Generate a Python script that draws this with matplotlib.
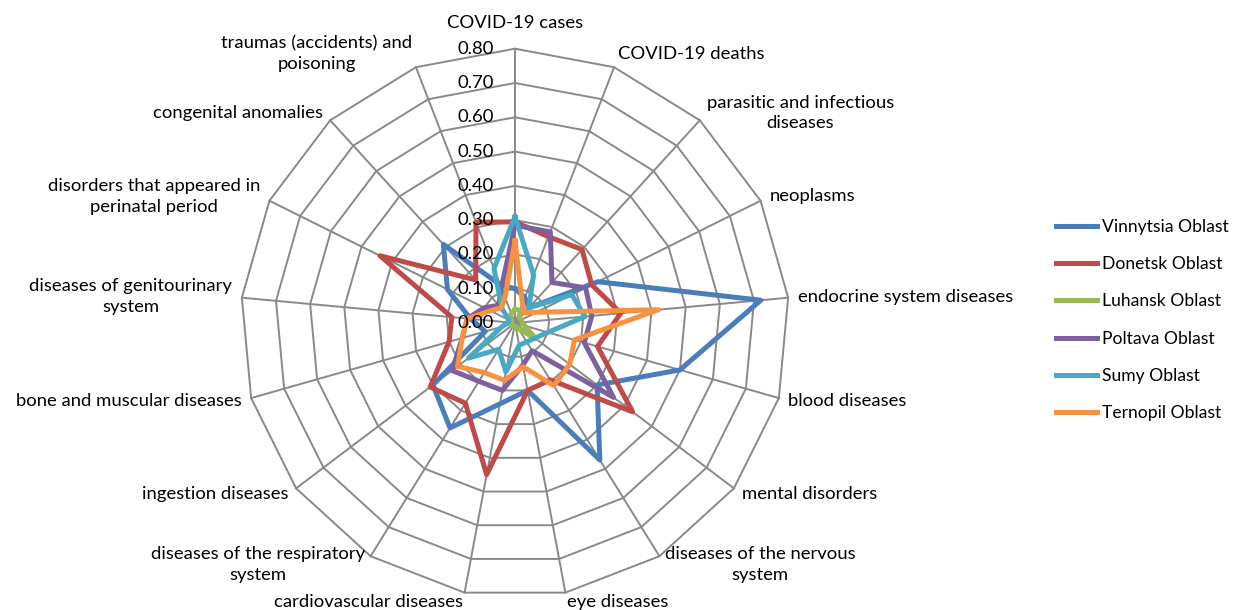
import numpy as np
import matplotlib
matplotlib.use("Agg")
import matplotlib.pyplot as plt

# categories clockwise from the top
categories = [
    "COVID-19 cases",
    "COVID-19 deaths",
    "parasitic and infectious\ndiseases",
    "neoplasms",
    "endocrine system diseases",
    "blood diseases",
    "mental disorders",
    "diseases of the nervous\nsystem",
    "eye diseases",
    "cardiovascular diseases",
    "diseases of the respiratory\nsystem",
    "ingestion diseases",
    "bone and muscular diseases",
    "diseases of genitourinary\nsystem",
    "disorders that appeared in\nperinatal period",
    "congenital anomalies",
    "traumas (accidents) and\npoisoning",
]

vinnytsia = [0.10, 0.08, 0.06, 0.27, 0.72, 0.50, 0.30, 0.47, 0.20, 0.24, 0.36, 0.30, 0.09, 0.13, 0.22, 0.31, 0.12]
donetsk = [0.295, 0.27, 0.29, 0.25, 0.31, 0.25, 0.43, 0.195, 0.20, 0.45, 0.275, 0.31, 0.20, 0.185, 0.44, 0.17, 0.315]
luhansk = [0.04, 0.04, 0.02, 0.02, 0.02, 0.03, 0.075, 0.02, 0.01, 0.01, 0.01, 0.01, 0.01, 0.01, 0.01, 0.02, 0.03]
poltava = [0.285, 0.285, 0.16, 0.23, 0.225, 0.21, 0.36, 0.095, 0.125, 0.20, 0.20, 0.23, 0.16, 0.14, 0.10, 0.07, 0.11]
sumy = [0.31, 0.15, 0.06, 0.185, 0.205, 0.10, 0.073, 0.065, 0.066, 0.145, 0.09, 0.17, 0.04, 0.02, 0.02, 0.055, 0.17]
ternopil = [0.24, 0.06, 0.04, 0.07, 0.42, 0.18, 0.20, 0.215, 0.13, 0.17, 0.17, 0.21, 0.16, 0.14, 0.08, 0.06, 0.08]

series_names = ["Vinnytsia Oblast", "Donetsk Oblast", "Luhansk Oblast",
                "Poltava Oblast", "Sumy Oblast", "Ternopil Oblast"]
series_values = [vinnytsia, donetsk, luhansk, poltava, sumy, ternopil]
series_colors = ["#4A7EBB", "#BE4B48", "#98B954", "#7D60A0", "#46AAC5", "#F69240"]

ticks = [0.0, 0.1, 0.2, 0.3, 0.4, 0.5, 0.6, 0.7, 0.8]
rmax = 0.8

plt.rcParams['font.family'] = ['Lato', 'DejaVu Sans']
fs = 13.3

W, H = 1234, 610
fig = plt.figure(figsize=(W / 100, H / 100), dpi=100)

# axes square in pixels, centred on the radar centre
cx, cy, R, half = 515, 287, 274.3, 285
ax = fig.add_axes([(cx - half) / W, (cy - half) / H, 2 * half / W, 2 * half / H])
lim = rmax * half / R
ax.set_xlim(-lim, lim)
ax.set_ylim(-lim, lim)
ax.axis('off')

n = len(categories)
ang = np.arange(n) * 2 * np.pi / n
s, c = np.sin(ang), np.cos(ang)

grid_col = '#898989'
for t in ticks[1:]:
    ax.plot(np.append(t * s, t * s[0]), np.append(t * c, t * c[0]),
            color=grid_col, lw=1.4, zorder=1)
for i in range(n):
    ax.plot([0, rmax * s[i]], [0, rmax * c[i]], color=grid_col, lw=1.4, zorder=1)

for vals, name, col in zip(series_values, series_names, series_colors):
    v = np.array(vals)
    ax.plot(np.append(v * s, v[0] * s[0]), np.append(v * c, v[0] * c[0]),
            color=col, lw=3.6, label=name, solid_joinstyle='round', zorder=3)

for t in ticks:
    ax.annotate(f"{t:.2f}", xy=(0, t), xytext=(-21, 0), textcoords='offset pixels',
                ha='right', va='center', fontsize=fs, color='black', zorder=5)

for i, lab in enumerate(categories):
    if s[i] > 0.1:
        ha = 'left'
    elif s[i] < -0.1:
        ha = 'right'
    else:
        ha = 'center'
    dy = 10 * c[i] + (16 * c[i] ** 20 if c[i] > 0 else 0)
    ax.annotate(lab, xy=(rmax * s[i], rmax * c[i]), xytext=(10 * s[i], dy),
                textcoords='offset pixels', ha=ha, va='center',
                multialignment='center', linespacing=1.35, fontsize=fs,
                color='black', annotation_clip=False)

fig.legend(loc='center left', bbox_to_anchor=(1044 / W, 1 - 320 / H),
           frameon=False, fontsize=12.6, handlelength=2.35, handletextpad=0.25,
           labelspacing=1.22, borderpad=0.2)

fig.savefig("out.png", dpi=100)
